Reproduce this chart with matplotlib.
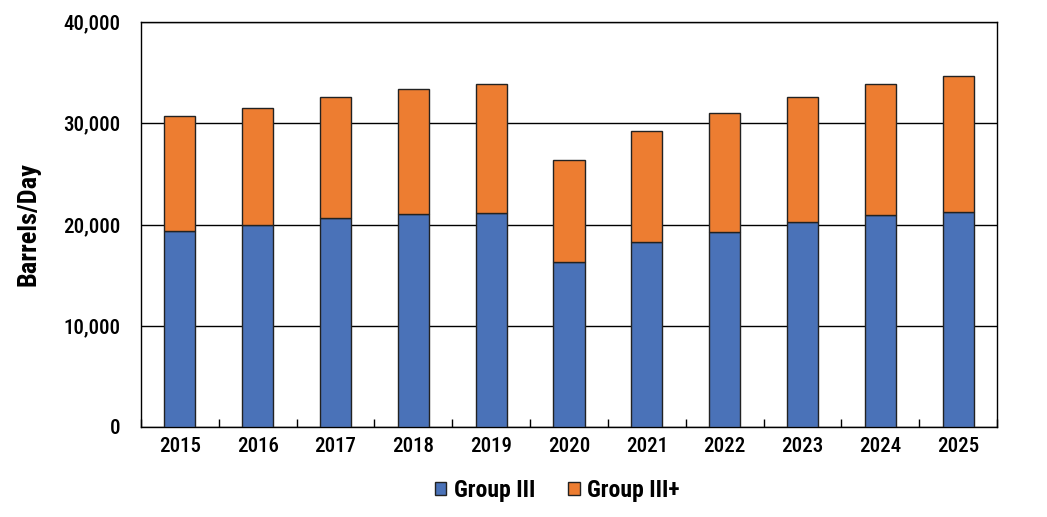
import matplotlib
matplotlib.use("Agg")
import matplotlib.pyplot as plt
import numpy as np
from matplotlib.ticker import FuncFormatter

plt.rcParams['font.family'] = ['Roboto Condensed', 'DejaVu Sans']

years = ['2015', '2016', '2017', '2018', '2019', '2020', '2021', '2022', '2023', '2024', '2025']
group_iii = [19400, 20000, 20600, 21070, 21170, 16250, 18240, 19290, 20250, 20980, 21280]
group_iii_plus = [11350, 11540, 12000, 12330, 12730, 10120, 10960, 11690, 12310, 12900, 13420]

blue = '#4A72B8'
orange = '#ED7D31'

fig = plt.figure(figsize=(10.47, 5.17), dpi=100)
ax = fig.add_axes([141 / 1047, 1 - 427 / 517, (997 - 141) / 1047, (427 - 22) / 517])

x = np.arange(len(years))
ax.bar(x, group_iii, width=0.4, color=blue, edgecolor='#222222', linewidth=1.0,
       label='Group III', zorder=3)
ax.bar(x, group_iii_plus, width=0.4, bottom=group_iii, color=orange, edgecolor='#222222',
       linewidth=1.0, label='Group III+', zorder=3)

ax.set_xlim(-0.5, len(years) - 0.5)
ax.set_ylim(0, 40000)
ax.set_yticks(range(0, 40001, 10000))
ax.yaxis.set_major_formatter(FuncFormatter(lambda v, p: f'{int(v):,}'))
ax.yaxis.grid(True, color='black', linewidth=1.0, zorder=0)
ax.tick_params(axis='y', length=0, labelsize=15, pad=15)
for t in ax.get_yticklabels():
    t.set_fontweight(500)

ax.set_xticks(x)
ax.set_xticklabels(years, fontweight=500)
ax.set_xticks(np.arange(-0.5, len(years), 1.0), minor=True)
ax.tick_params(axis='x', which='major', length=0, labelsize=15, pad=7)
ax.tick_params(axis='x', which='minor', direction='in', length=6, width=1, color='black')

for s in ax.spines.values():
    s.set_color('black')
    s.set_linewidth(1.0)

ax.set_ylabel('Barrels/Day', fontsize=19, fontweight='bold', labelpad=16)

leg = fig.legend(loc='lower center', bbox_to_anchor=(0.532, -0.012), ncol=2, frameon=False,
                 prop={'weight': 'bold', 'size': 17},
                 handlelength=0.5, handleheight=0.5, handletextpad=0.3, columnspacing=1.4)
for h in leg.legend_handles:
    h.set_linewidth(1.0)

fig.savefig('out.png', dpi=100)
